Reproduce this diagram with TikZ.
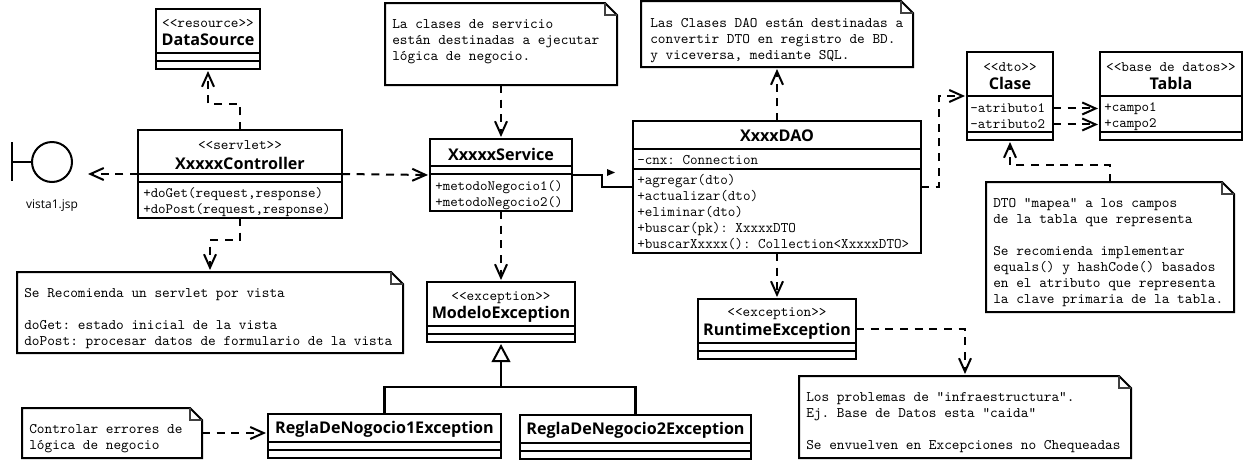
\documentclass[tikz,border=0pt]{standalone}
\usepackage{fontspec}
\setmainfont{Open Sans}
\usetikzlibrary{arrows.meta,calc}
\frenchspacing
\tikzset{
  umlline/.style={line width=1.5pt,line join=miter},
  classbox/.style={draw,umlline,rectangle,inner sep=0pt,outer sep=0pt},
  notebody/.style={rectangle,inner sep=0pt,outer sep=0pt},
  foldline/.style={line width=0.8pt,draw=black!75},
  dep/.style={umlline,dash pattern=on 6pt off 5pt,-{Straight Barb[length=10pt,width=9pt,line width=1.5pt]},shorten >=1.5pt},
  gen/.style={umlline,line width=1.8pt},
  stereo/.style={font=\ttfamily\fontsize{10.9}{12}\selectfont,inner sep=0pt,yshift=-1.1pt},
  cname/.style={font=\bfseries\fontsize{12.1}{14}\selectfont,inner sep=0pt,yshift=-0.75pt},
  member/.style={font=\ttfamily\fontsize{10.7}{12}\selectfont,inner sep=0pt,anchor=west,align=left,yshift=-1.1pt},
  daomember/.style={font=\ttfamily\fontsize{11}{12}\selectfont,inner sep=0pt,anchor=west,align=left,yshift=-0.75pt},
  notetext/.style={font=\ttfamily\fontsize{10.95}{12}\selectfont,inner sep=0pt,anchor=west,align=left,yshift=-0.75pt},
}
\newcommand{\umlclass}[7]{%
  \node[classbox,minimum width={(#4-#2)*0.75pt},minimum height={(#5-#3)*0.75pt}] (#1) at ({(#2+#4)/2},{(#3+#5)/2}) {};
  \draw[umlline] (#1.west |- 0,#6) -- (#1.east |- 0,#6);
  \draw[umlline] (#1.west |- 0,#7) -- (#1.east |- 0,#7);
}
\newcommand{\umlnote}[5]{%
  \node[notebody,minimum width={(#4-#2)*0.75pt},minimum height={(#5-#3)*0.75pt}] (#1) at ({(#2+#4)/2},{(#3+#5)/2}) {};
  \draw[umlline] (#1.north west) -- ($(#1.north east)+(-12,0)$) -- ($(#1.north east)+(0,12)$) -- (#1.south east) -- (#1.south west) -- cycle;
  \draw[foldline] ($(#1.north east)+(-12,0)$) |- ($(#1.north east)+(0,12)$);
}
\begin{document}
\begin{tikzpicture}[x=0.75pt,y=-0.75pt]
\useasboundingbox (0,0) rectangle (1244,461);

% classes
\umlclass{ds}{156}{9}{260}{69}{53}{61}
\node[stereo] (dsS) at (208,22) {<<resource>>};
\node[cname] (dsN) at (208,39) {DataSource};

\umlclass{ctl}{138}{130}{342}{218}{174}{182}
\node[stereo] (ctlS) at (240,144) {<<servlet>>};
\node[cname] (ctlN) at (240,162) {XxxxxController};
\node[member] (ctlM) at (143,201) {+doGet(request,response)\\+doPost(request,response)};

\umlclass{svc}{430}{139}{572}{211}{166}{174}
\node[cname] (svcN) at (501,153) {XxxxxService};
\node[member] (svcM) at (435,194) {+metodoNegocio1()\\+metodoNegocio2()};

\umlclass{dao}{633}{121}{921}{253}{149}{169}
\node[cname] (daoN) at (777,135) {XxxxDAO};
\node[daomember] (daoA) at (637,159) {-cnx: Connection};
\node[daomember] (daoM) at (637,211) {+agregar(dto)\\+actualizar(dto)\\+eliminar(dto)\\+buscar(pk): XxxxxDTO\\+buscarXxxxx(): Collection<XxxxxDTO>};

\umlclass{cla}{967}{52}{1053}{140}{96}{132}
\node[stereo] (claS) at (1010,66) {<<dto>>};
\node[cname] (claN) at (1010,82) {Clase};
\node[member] (attrA) at (970,107) {-atributo1};
\node[member] (attrB) at (970,123) {-atributo2};

\umlclass{tab}{1100}{52}{1242}{140}{96}{132}
\node[stereo] (tabS) at (1171,66) {<<base de datos>>};
\node[cname] (tabN) at (1171,82) {Tabla};
\node[member] (campoA) at (1104,107) {+campo1};
\node[member] (campoB) at (1104,123) {+campo2};

\umlclass{mod}{427}{282}{575}{342}{326}{334}
\node[stereo] (modS) at (501,296) {<<exception>>};
\node[cname] (modN) at (501,313) {ModeloException};

\umlclass{run}{698}{299}{856}{359}{343}{351}
\node[stereo] (runS) at (777,312) {<<exception>>};
\node[cname] (runN) at (777,330) {RuntimeException};

\umlclass{reA}{268}{414}{501}{458}{442}{450}
\node[cname] (reAN) at (384.5,428) {ReglaDeNogocio1Exception};

\umlclass{reB}{520}{415}{751}{459}{443}{451}
\node[cname] (reBN) at (635.5,429) {ReglaDeNegocio2Exception};

% boundary
\node[circle,draw,umlline,minimum size={40*0.75pt},inner sep=0pt,outer sep=0pt] (vis) at (52,162) {};
\draw[umlline] (12,142) -- (12,181);
\draw[umlline] (12,162) -- (vis.west);
\node[font=\fontsize{9}{11}\selectfont,inner sep=0pt] (visT) at (52,206) {vista1.jsp};

% notes
\umlnote{nSvc}{385}{3}{617}{85}
\node[notetext] (nSvcT) at (392,41) {La clases de servicio\\est\'an destinadas a ejecutar\\l\'ogica de negocio.};
\umlnote{nDao}{641}{1}{913}{67}
\node[notetext] (nDaoT) at (650,40) {Las Clases DAO est\'an destinadas a\\convertir DTO en registro de BD.\\y viceversa, mediante SQL.};
\umlnote{nDto}{986}{182}{1234}{312}
\node[notetext] (nDtoT) at (993,252) {DTO "mapea" a los campos\\de la tabla que representa\\[12pt]Se recomienda implementar\\equals() y hashCode() basados\\en el atributo que representa\\la clave primaria de la tabla.};
\umlnote{nCtl}{17}{272}{403}{353}
\node[notetext] (nCtlT) at (24,318) {Se Recomienda un servlet por vista\\[12pt]doGet: estado inicial de la vista\\doPost: procesar datos de formulario de la vista};
\umlnote{nReg}{22}{408}{202}{458}
\node[notetext] (nRegT) at (29,438) {Controlar errores de\\l\'ogica de negocio};
\umlnote{nRun}{799}{376}{1131}{458}
\node[notetext] (nRunT) at (806,422) {Los problemas de "infraestructura".\\Ej. Base de Datos esta "caida"\\[12pt]Se envuelven en Excepciones no Chequeadas};

% connectors
\coordinate (visEnd) at (86,174);
\draw[dep] (ctl.north) -- ++(0,-26) -| (ds.south);
\draw[dep] (ctl.west) -- (visEnd);
\draw[dep] (ctl.east) -- (svc.west);
\draw[dep] (ctl.south) -- ++(0,22) -| (nCtl.north);
\draw[dep] (nSvc.south) -- (svc.north);
\draw[dep] (svc.south) -- (mod.north);
\draw[umlline] (svc.east) -- ++(30,0) |- (dao.west);
\fill (607,169) -- (615,172.5) -- (607,176) -- cycle;
\draw[dep] (dao.north) -- (nDao.south);
\draw[dep] (dao.south) -- (run.north);
\draw[dep] (dao.east) -- ++(18,0) |- (cla.west);
\draw[dep] (cla.east |- attrA) -- (tab.west |- attrA);
\draw[dep] (cla.east |- attrB) -- (tab.west |- attrB);
\draw[dep] (nDto.north) -- ++(0,-17) -| (cla.south);
\draw[dep] (run.east) -| (nRun.north);
\draw[dep] (nReg.east) -- (nReg.east -| reA.west);
\coordinate (genJ) at (501,387);
\draw[gen] (reB.north) |- (genJ);
\draw[gen,-{Triangle[open,length=13.5pt,width=14pt,fill=white,line width=1.5pt]},shorten >=1.5pt] (reA.north) |- (genJ) -- (mod.south);
\end{tikzpicture}
\end{document}
